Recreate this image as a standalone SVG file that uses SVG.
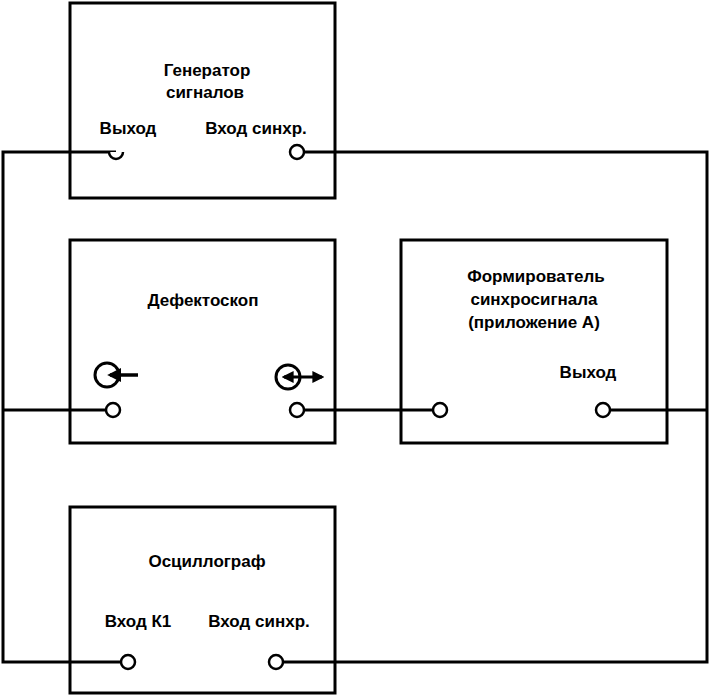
<svg xmlns="http://www.w3.org/2000/svg" width="710" height="696" viewBox="0 0 710 696">
<style>
.box{fill:none;stroke:#000;stroke-width:3}
.w{fill:none;stroke:#000;stroke-width:3}
.p{fill:#fff;stroke:#000;stroke-width:2.5}
text{font-family:"Liberation Sans",Arial,sans-serif;font-weight:bold;font-size:17px;fill:#000;text-anchor:middle}
</style>
<defs><marker id="ah" viewBox="0 0 10 10" refX="8" refY="5" markerWidth="4" markerHeight="4" orient="auto-start-reverse"><path d="M0,0L10,5L0,10z"/></marker></defs>
<g id="connectors">
<path class="w" d="M116,152H3V662H121M3,410H106M304,152H707V662H283M304,410H433M610,410H707"/>
</g>
<g id="gen"><rect class="box" x="70" y="3" width="265" height="195"/>
<text x="207" y="76">Генератор</text><text x="205" y="98">сигналов</text>
<text x="128" y="134">Выход</text><text x="256" y="134">Вход синхр.</text>
<path class="p" d="M109,152A7,7 0 0 0 123,152" fill="none"/>
<circle class="p" cx="297" cy="152" r="7"/></g>
<g id="def"><rect class="box" x="70" y="240" width="265" height="203"/>
<text x="203" y="306">Дефектоскоп</text>
<circle cx="107" cy="375" r="12" fill="none" stroke="#000" stroke-width="3"/>
<line x1="138" y1="375" x2="110" y2="375" stroke="#000" stroke-width="3.5" marker-end="url(#ah)"/>
<circle cx="288" cy="377" r="12" fill="none" stroke="#000" stroke-width="3"/>
<line x1="284" y1="377" x2="322" y2="377" stroke="#000" stroke-width="3" marker-start="url(#ah)" marker-end="url(#ah)"/>
<circle class="p" cx="113" cy="410" r="7"/><circle class="p" cx="297" cy="410" r="7"/></g>
<g id="form"><rect class="box" x="401" y="240" width="266" height="203"/>
<text x="536" y="282">Формирователь</text><text x="534" y="305">синхросигнала</text><text x="534" y="328">(приложение А)</text>
<text x="588" y="378">Выход</text>
<circle class="p" cx="440" cy="410" r="7"/><circle class="p" cx="603" cy="410" r="7"/></g>
<g id="osc"><rect class="box" x="70" y="507" width="265" height="186"/>
<text x="207" y="567">Осциллограф</text>
<text x="138" y="627">Вход К1</text><text x="259" y="627">Вход синхр.</text>
<circle class="p" cx="128" cy="662" r="7"/><circle class="p" cx="276" cy="662" r="7"/></g>
</svg>
